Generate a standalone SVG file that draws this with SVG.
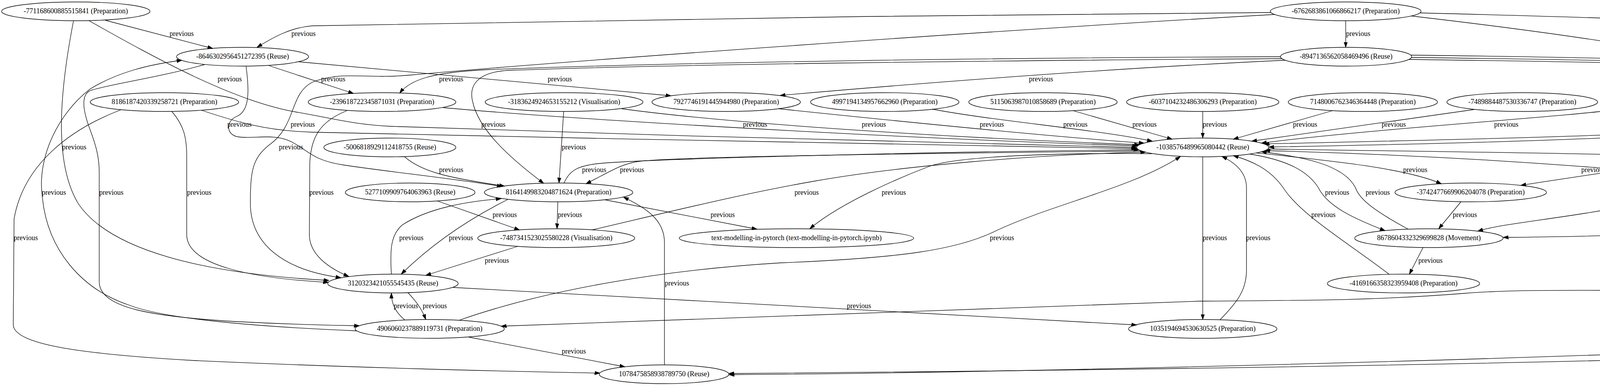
<svg xmlns="http://www.w3.org/2000/svg" width="5297" height="987" viewBox="0 0 5297 987">
<style>
text{font-family:"Liberation Serif","Times New Roman",serif;font-size:18px;fill:#000;text-anchor:middle}
.node ellipse{fill:none;stroke:#000;stroke-width:1.4}
.edge path{fill:none;stroke:#000;stroke-width:1.3;marker-end:url(#arr)}
</style>
<defs>
<marker id="arr" viewBox="0 0 14 10" refX="13.5" refY="5" markerWidth="14" markerHeight="10" orient="auto" markerUnits="userSpaceOnUse"><path d="M0,0.5 L13.5,5 L0,9.5 z" fill="#000" stroke="#000" stroke-width="1"/></marker>
</defs>
<rect width="5297" height="987" fill="#fff"/>
<g id="edges">
<g class="edge" id="e1"><path d="M270,52 L545,124"/><text x="465" y="92">previous</text></g>
<g class="edge" id="e2"><path d="M3253,32 C2500,38 1400,50 800,66 C745,70 700,95 658,121"/><text x="777" y="92">previous</text></g>
<g class="edge" id="e3"><path d="M3445,53 L3445,121"/><text x="3477" y="92">previous</text></g>
<g class="edge" id="e4"><path d="M228,53 C400,150 600,260 761,287 C850,302 900,318 1000,323 C1600,345 2500,368 2910,377"/><text x="588" y="208">previous</text></g>
<g class="edge" id="e5"><path d="M188,54 C150,250 140,420 200,520 C280,640 520,700 842,717"/><text x="190" y="382">previous</text></g>
<g class="edge" id="e6"><path d="M3614,41 C3950,80 4400,140 4500,195 C4560,230 4560,280 4500,310 C4420,345 3800,355 3236,368"/><text x="4552" y="208">previous</text></g>
<g class="edge" id="e7"><path d="M3263,37 C2500,80 1400,160 1050,192 C930,203 880,180 800,210 C740,240 760,320 690,370 C645,405 641,440 641,520 C641,620 720,690 873,710"/><text x="745" y="382">previous</text></g>
<g class="edge" id="e8"><path d="M3635,33 C4300,50 4900,70 5150,110 C5220,130 5230,150 5230,200 L5230,840 C5232,870 5200,875 5150,880 C4500,930 2500,950 1866,955"/><text x="5262" y="498">previous</text></g>
<g class="edge" id="e9"><path d="M689,168 L905,239"/><text x="853" y="208">previous</text></g>
<g class="edge" id="e10"><path d="M765,158 L1718,245"/><text x="1433" y="208">previous</text></g>
<g class="edge" id="e11"><path d="M630,170 C638,230 640,285 605,298 C578,310 578,345 610,350 C650,356 700,340 745,362 C790,385 800,410 880,422 C1000,440 1150,455 1286,477"/><text x="613" y="324">previous</text></g>
<g class="edge" id="e12"><path d="M524,165 C400,200 280,215 230,232 C205,245 215,290 230,330 C245,370 254,400 254,440 L254,720 C254,790 400,810 600,822 C750,830 850,832 920,833"/><text x="285" y="498">previous</text></g>
<g class="edge" id="e13"><path d="M913,846 C650,835 420,815 330,780 C210,740 120,640 108,500 C95,400 150,290 230,228 C300,185 380,165 466,154"/><text x="138" y="498">previous</text></g>
<g class="edge" id="e14"><path d="M3278,145 C2500,148 1700,160 1250,178 C1100,185 1050,205 1023,238"/><text x="1155" y="208">previous</text></g>
<g class="edge" id="e15"><path d="M3290,154 C2950,170 2500,200 1997,244"/><text x="2665" y="208">previous</text></g>
<g class="edge" id="e16"><path d="M3282,150 C2500,155 1700,165 1300,180 C1220,185 1200,220 1210,260 C1225,330 1300,400 1392,469"/><text x="1263" y="324">previous</text></g>
<g class="edge" id="e17"><path d="M3607,152 C4200,160 4800,170 4950,200 C5020,220 5015,280 4990,320 C4950,390 4880,430 4838,468"/><text x="5024" y="324">previous</text></g>
<g class="edge" id="e18"><path d="M3614,147 C4300,155 4900,170 5010,210 C5070,235 5065,330 5055,400 C5045,470 5030,515 4980,535 C4850,575 4300,603 3848,607"/><text x="5084" y="382">previous</text></g>
<g class="edge" id="e19"><path d="M3612,141 C4400,150 4950,170 5060,220 C5130,260 5120,400 5090,470 C5050,580 4950,690 4750,722 C4400,760 4000,730 3750,750 C3500,770 3300,768 3073,770 C2500,790 1700,820 1283,834"/><text x="5120" y="498">previous</text></g>
<g class="edge" id="e20"><path d="M309,281 C180,330 60,420 36,560 L34,830 C34,880 200,905 500,922 C900,940 1300,950 1536,954"/><text x="66" y="614">previous</text></g>
<g class="edge" id="e21"><path d="M440,285 C470,320 478,350 478,400 L478,600 C478,680 650,712 841,722"/><text x="510" y="498">previous</text></g>
<g class="edge" id="e22"><path d="M516,282 C600,310 680,335 800,338 C1500,355 2500,372 2911,380"/><text x="775" y="324">previous</text></g>
<g class="edge" id="e23"><path d="M888,283 C820,310 795,350 793,420 L792,600 C792,650 840,685 893,707"/><text x="823" y="498">previous</text></g>
<g class="edge" id="e24"><path d="M1133,275 C1400,300 2200,350 2912,373"/><text x="1933" y="324">previous</text></g>
<g class="edge" id="e25"><path d="M1443,285 L1431,468"/><text x="1469" y="382">previous</text></g>
<g class="edge" id="e26"><path d="M1591,278 C1900,320 2500,355 2917,370"/><text x="2237" y="324">previous</text></g>
<g class="edge" id="e27"><path d="M1993,278 C2300,310 2700,350 2929,366"/><text x="2539" y="324">previous</text></g>
<g class="edge" id="e28"><path d="M2386,279 C2550,310 2800,330 2950,361"/><text x="2753" y="324">previous</text></g>
<g class="edge" id="e29"><path d="M2747,283 L3001,356"/><text x="2930" y="324">previous</text></g>
<g class="edge" id="e30"><path d="M3079,285 L3079,353"/><text x="3110" y="324">previous</text></g>
<g class="edge" id="e31"><path d="M3411,283 L3157,356"/><text x="3341" y="324">previous</text></g>
<g class="edge" id="e32"><path d="M3774,280 L3204,361"/><text x="3568" y="324">previous</text></g>
<g class="edge" id="e33"><path d="M4166,277 C4000,300 3500,330 3229,366"/><text x="3856" y="324">previous</text></g>
<g class="edge" id="e34"><path d="M4648,278 C4560,292 4500,300 4470,318 C4430,345 4000,362 3248,376"/><text x="4520" y="324">previous</text></g>
<g class="edge" id="e35"><path d="M4690,282 C4600,305 4570,315 4540,340 C4450,400 4100,440 3893,474"/><text x="4500" y="382">previous</text></g>
<g class="edge" id="e36"><path d="M4762,285 C4650,380 4400,470 4200,520 C4000,560 3850,570 3783,591"/><text x="4499" y="440">previous</text></g>
<g class="edge" id="e37"><path d="M1036,401 C1080,440 1150,455 1292,476"/><text x="1155" y="440">previous</text></g>
<g class="edge" id="e38"><path d="M2922,386 C2400,392 1750,400 1640,412 C1590,418 1560,440 1500,470"/><text x="1618" y="440">previous</text></g>
<g class="edge" id="e39"><path d="M1444,468 C1458,435 1480,422 1546,417 C1700,405 2400,388 2915,383"/><text x="1521" y="440">previous</text></g>
<g class="edge" id="e40"><path d="M3216,391 C3400,410 3600,430 3690,470"/><text x="3623" y="440">previous</text></g>
<g class="edge" id="e41"><path d="M3247,381 C3800,390 4500,395 4650,420 C4720,435 4750,450 4768,468"/><text x="4764" y="440">previous</text></g>
<g class="edge" id="e42"><path d="M4628,484 C4300,440 3800,400 3238,385"/><text x="4079" y="440">previous</text></g>
<g class="edge" id="e43"><path d="M1120,514 L1330,588"/><text x="1292" y="555">previous</text></g>
<g class="edge" id="e44"><path d="M1428,516 L1426,585"/><text x="1459" y="555">previous</text></g>
<g class="edge" id="e45"><path d="M1549,511 L1938,586"/><text x="1850" y="555">previous</text></g>
<g class="edge" id="e46"><path d="M1300,510 C1220,550 1120,610 1027,701"/><text x="1180" y="614">previous</text></g>
<g class="edge" id="e47"><path d="M1002,701 C998,640 1000,600 1030,575 C1100,530 1200,515 1283,508"/><text x="1053" y="614">previous</text></g>
<g class="edge" id="e48"><path d="M1515,588 C1700,545 1900,495 2086,463 C2300,425 2650,395 2933,389"/><text x="2065" y="498">previous</text></g>
<g class="edge" id="e49"><path d="M2950,393 C2700,390 2450,400 2380,425 C2300,455 2150,520 2073,585"/><text x="2288" y="498">previous</text></g>
<g class="edge" id="e50"><path d="M1325,630 L1090,704"/><text x="1272" y="672">previous</text></g>
<g class="edge" id="e51"><path d="M3200,394 C3300,410 3350,440 3375,480 C3400,530 3470,560 3546,590"/><text x="3423" y="498">previous</text></g>
<g class="edge" id="e52"><path d="M3605,586 C3520,540 3480,510 3470,480 C3440,420 3330,400 3229,388"/><text x="3527" y="498">previous</text></g>
<g class="edge" id="e53"><path d="M3740,516 L3683,585"/><text x="3750" y="555">previous</text></g>
<g class="edge" id="e54"><path d="M3557,702 C3450,620 3330,550 3285,480 C3250,430 3200,410 3157,398"/><text x="3388" y="555">previous</text></g>
<g class="edge" id="e55"><path d="M3643,633 L3608,701"/><text x="3662" y="672">previous</text></g>
<g class="edge" id="e56"><path d="M3079,401 L3079,817"/><text x="3110" y="614">previous</text></g>
<g class="edge" id="e57"><path d="M3123,818 C3170,770 3191,740 3191,690 L3191,480 C3191,440 3160,415 3128,400"/><text x="3221" y="614">previous</text></g>
<g class="edge" id="e58"><path d="M1175,819 C1400,740 1700,690 2000,672 C2300,660 2450,640 2550,590 C2700,520 2900,480 3022,400"/><text x="2565" y="614">previous</text></g>
<g class="edge" id="e59"><path d="M1044,748 C1065,770 1080,790 1090,817"/><text x="1113" y="788">previous</text></g>
<g class="edge" id="e60"><path d="M1036,818 C1015,800 1002,780 1002,749"/><text x="1039" y="788">previous</text></g>
<g class="edge" id="e61"><path d="M1160,735 L2910,831"/><text x="2199" y="788">previous</text></g>
<g class="edge" id="e62"><path d="M1200,862 L1600,938"/><text x="1469" y="904">previous</text></g>
<g class="edge" id="e63"><path d="M1701,933 L1701,620 C1701,560 1650,530 1596,504"/><text x="1733" y="730">previous</text></g>
<g class="edge" id="e64"><path d="M4957,507 C5030,530 5067,560 5067,620 L5067,840 C5067,860 5040,866 5000,870 C4000,920 2500,955 1866,958"/><text x="5099" y="730">previous</text></g>
</g>
<g id="nA" class="node"><ellipse cx="194" cy="29" rx="190" ry="24"/><text x="194" y="34">-771168600885515841 (Preparation)</text></g>
<g id="nB" class="node"><ellipse cx="3445" cy="29" rx="193" ry="24"/><text x="3445" y="34">-6762683861066866217 (Preparation)</text></g>
<g id="nC" class="node"><ellipse cx="621" cy="145" rx="169" ry="24"/><text x="621" y="150">-8646302956451272395 (Reuse)</text></g>
<g id="nD" class="node"><ellipse cx="3446" cy="145" rx="168" ry="24"/><text x="3446" y="150">-8947136562058469496 (Reuse)</text></g>
<g id="nE" class="node"><ellipse cx="421" cy="261" rx="190" ry="24"/><text x="421" y="266">8186187420339258721 (Preparation)</text></g>
<g id="nF" class="node"><ellipse cx="978" cy="261" rx="189" ry="24"/><text x="978" y="266">-239618722345871031 (Preparation)</text></g>
<g id="nG" class="node"><ellipse cx="1444" cy="261" rx="202" ry="24"/><text x="1444" y="266">-3183624924653155212 (Visualisation)</text></g>
<g id="nI" class="node"><ellipse cx="1859" cy="261" rx="190" ry="24"/><text x="1859" y="266">7927746191445944980 (Preparation)</text></g>
<g id="nJ" class="node"><ellipse cx="2265" cy="261" rx="190" ry="24"/><text x="2265" y="266">4997194134957662960 (Preparation)</text></g>
<g id="nK" class="node"><ellipse cx="2670" cy="261" rx="190" ry="24"/><text x="2670" y="266">5115063987010858689 (Preparation)</text></g>
<g id="nL" class="node"><ellipse cx="3079" cy="261" rx="195" ry="24"/><text x="3079" y="266">-6037104232486306293 (Preparation)</text></g>
<g id="nM" class="node"><ellipse cx="3489" cy="261" rx="191" ry="24"/><text x="3489" y="266">7148006762346364448 (Preparation)</text></g>
<g id="nN" class="node"><ellipse cx="3897" cy="261" rx="193" ry="24"/><text x="3897" y="266">-7489884487530336747 (Preparation)</text></g>
<g id="nO" class="node"><ellipse cx="4318" cy="261" rx="202" ry="24"/><text x="4318" y="266">-2394608020401126395 (Visualisation)</text></g>
<g id="nP" class="node"><ellipse cx="4795" cy="261" rx="202" ry="24"/><text x="4795" y="266">-6832701270891557042 (Visualisation)</text></g>
<g id="nQ" class="node"><ellipse cx="998" cy="377" rx="169" ry="24"/><text x="998" y="382">-5006818929112418755 (Reuse)</text></g>
<g id="nH" class="node"><ellipse cx="3079" cy="377" rx="169" ry="24"/><text x="3079" y="382">-1038576489965080442 (Reuse)</text></g>
<g id="nR" class="node"><ellipse cx="1050" cy="492" rx="166" ry="24"/><text x="1050" y="497">5277109909764063963 (Reuse)</text></g>
<g id="nS" class="node"><ellipse cx="1430" cy="492" rx="190" ry="24"/><text x="1430" y="497">8164149983204871624 (Preparation)</text></g>
<g id="nT" class="node"><ellipse cx="3765" cy="492" rx="194" ry="24"/><text x="3765" y="497">-3742477669906204078 (Preparation)</text></g>
<g id="nU" class="node"><ellipse cx="4807" cy="492" rx="190" ry="24"/><text x="4807" y="497">1509053923096286206 (Preparation)</text></g>
<g id="nV" class="node"><ellipse cx="1424" cy="609" rx="201" ry="24"/><text x="1424" y="614">-7487341523025580228 (Visualisation)</text></g>
<g id="nW" class="node"><ellipse cx="2039" cy="609" rx="300" ry="24"/><text x="2039" y="614">text-modelling-in-pytorch (text-modelling-in-pytorch.ipynb)</text></g>
<g id="nX" class="node"><ellipse cx="3658" cy="609" rx="190" ry="24"/><text x="3658" y="614">8678604332329699828 (Movement)</text></g>
<g id="nY" class="node"><ellipse cx="1006" cy="725" rx="167" ry="24"/><text x="1006" y="730">3120323421055545435 (Reuse)</text></g>
<g id="nZ" class="node"><ellipse cx="3593" cy="725" rx="195" ry="24"/><text x="3593" y="730">-4169166358323959408 (Preparation)</text></g>
<g id="nAA" class="node"><ellipse cx="1100" cy="841" rx="191" ry="24"/><text x="1100" y="846">4906060237889119731 (Preparation)</text></g>
<g id="nAB" class="node"><ellipse cx="3079" cy="841" rx="190" ry="24"/><text x="3079" y="846">1035194694530630525 (Preparation)</text></g>
<g id="nAC" class="node"><ellipse cx="1700" cy="957" rx="166" ry="24"/><text x="1700" y="962">1078475858938789750 (Reuse)</text></g>
</svg>
